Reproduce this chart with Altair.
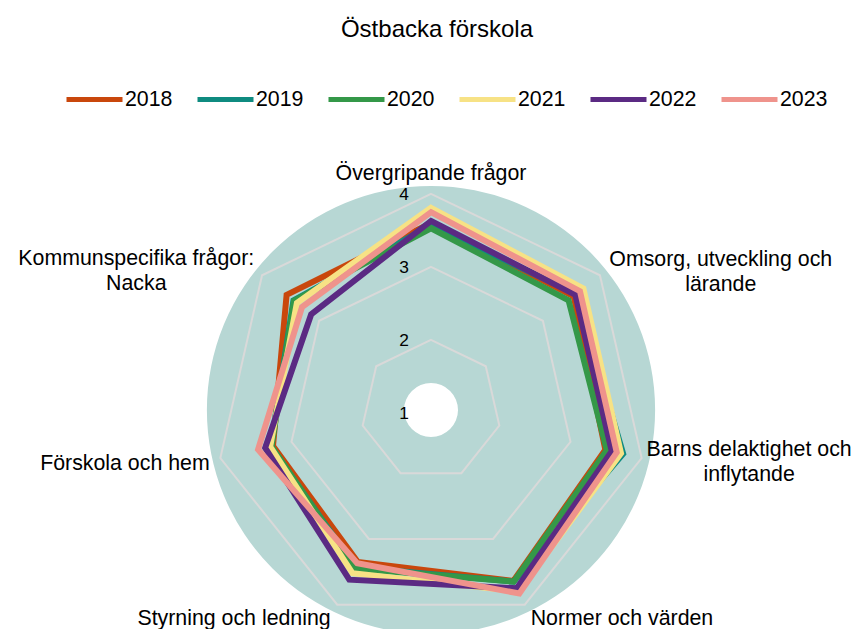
import altair as alt
import pandas as pd

# ---------------- data ----------------
title_text = "Östbacka förskola"

categories = [
    "Övergripande frågor",
    "Omsorg, utveckling och\nlärande",
    "Barns delaktighet och\ninflytande",
    "Normer och värden",
    "Styrning och ledning",
    "Förskola och hem",
    "Kommunspecifika frågor:\nNacka",
]

years = ["2018", "2019", "2020", "2021", "2022", "2023"]

scores_2018 = [3.60, 3.54, 3.49, 3.64, 3.35, 3.26, 3.57]
scores_2019 = [3.57, 3.59, 3.74, 3.65, 3.43, 3.29, 3.45]
scores_2020 = [3.53, 3.45, 3.51, 3.65, 3.45, 3.28, 3.44]
scores_2021 = [3.81, 3.71, 3.71, 3.80, 3.52, 3.30, 3.39]
scores_2022 = [3.63, 3.57, 3.58, 3.75, 3.62, 3.37, 3.14]
scores_2023 = [3.75, 3.65, 3.65, 3.83, 3.37, 3.47, 3.30]

grid_levels = [2, 3, 4]
tick_labels = [1, 2, 3, 4]

series_colors = ["#c9470c", "#0f8b80", "#349848", "#f7e285", "#5b2a83", "#ef938c"]

# ---------------- layout / style ----------------
W, H = 847, 621
CX, CY = 423, 402           # centre of the radar inside the view (px)
PX = 73.0                   # pixels per score unit
R0 = 1.04                   # score at the centre
RING_OUT = 4.11             # outer edge of the teal disc (score units)
RING_IN = 1.41              # white hole (score units)
LABEL_R = R0 + 235 / PX     # where category labels are anchored
FONT = "Liberation Sans"
LABEL_SIZE = 21.33
N = len(categories)

xs = alt.Scale(domain=[-CX / PX, (W - CX) / PX], nice=False, zero=False)
ys = alt.Scale(domain=[-(H - CY) / PX, CY / PX], nice=False, zero=False)
X = alt.X("x:Q", scale=xs, axis=None)
Y = alt.Y("y:Q", scale=ys, axis=None)

ang = f"datum.idx * 2 * PI / {N}"

def polar(chart, field):
    return chart.transform_calculate(
        x=f"(datum.{field} - {R0}) * sin({ang})",
        y=f"(datum.{field} - {R0}) * cos({ang})",
    )

# ---------------- tables ----------------
all_scores = [scores_2018, scores_2019, scores_2020, scores_2021, scores_2022, scores_2023]
series_rows = []
for yi, (yr, sc) in enumerate(zip(years, all_scores)):
    for i, (cat, v) in enumerate(zip(categories, sc)):
        series_rows.append({"year": yr, "yi": yi, "idx": i, "category": cat, "score": v})
df_series = pd.DataFrame(series_rows)

df_grid = pd.DataFrame([{"level": lv, "idx": i} for lv in grid_levels for i in range(N)])
df_ticks = pd.DataFrame({"level": tick_labels, "label": [str(t) for t in tick_labels], "idx": 0})
df_labels = pd.DataFrame({"idx": list(range(N)), "category": categories, "r": LABEL_R})
df_one = pd.DataFrame({"c": [0]})

# ---------------- layers ----------------
ring = alt.Chart(df_one).transform_calculate(x="0", y="0").mark_arc(
    theta=0, theta2=6.2832,
    radius=(RING_OUT - R0) * PX, radius2=(RING_IN - R0) * PX,
    color="#b7d7d4",
).encode(x=X, y=Y)

grid = polar(alt.Chart(df_grid), "level").mark_line(
    interpolate="linear-closed", color="#d9d9d9", strokeWidth=2
).encode(x=X, y=Y, detail="level:N", order="idx:Q")

lines = polar(alt.Chart(df_series), "score").mark_line(
    interpolate="linear-closed", strokeWidth=6, strokeJoin="miter", strokeMiterLimit=10
).encode(
    x=X, y=Y,
    color=alt.Color(
        "year:N",
        scale=alt.Scale(domain=years, range=series_colors),
        legend=alt.Legend(
            title=None, orient="none", legendX=56, legendY=61,
            direction="horizontal", symbolType="stroke", symbolSize=3136,
            symbolStrokeWidth=5, labelFontSize=LABEL_SIZE, labelFont=FONT,
            labelColor="black", labelOffset=0, columnPadding=14,
        ),
    ),
    order="idx:Q",
)

ticks = polar(alt.Chart(df_ticks), "level").mark_text(
    align="right", baseline="middle", dx=-22, dy=1, fontSize=17.33, font=FONT, color="black"
).encode(x=X, y=Y, text="label:N")

label_offsets = [(0, -1), (106, -3), (89, -12), (89, -3), (-95, -3), (-77, 2), (-111, -4)]
label_layers = []
for i, (ddx, ddy) in enumerate(label_offsets):
    label_layers.append(
        polar(alt.Chart(df_labels), "r").transform_filter(f"datum.idx == {i}").mark_text(
            align="center", baseline="middle", dx=ddx, dy=ddy, fontSize=LABEL_SIZE,
            font=FONT, color="black", lineBreak="\n", lineHeight=25,
        ).encode(x=X, y=Y, text="category:N")
    )

title = alt.Chart(df_one).mark_text(
    align="center", baseline="middle", fontSize=24, font=FONT, color="black"
).encode(x=alt.value(429), y=alt.value(22), text=alt.value(title_text))

chart = alt.layer(ring, grid, lines, ticks, *label_layers, title).properties(
    width=W, height=H, padding=0, autosize=alt.AutoSizeParams(type="none")
).configure_view(strokeWidth=0)

chart.save("out.html", embed_options={"renderer": "svg", "actions": False})
